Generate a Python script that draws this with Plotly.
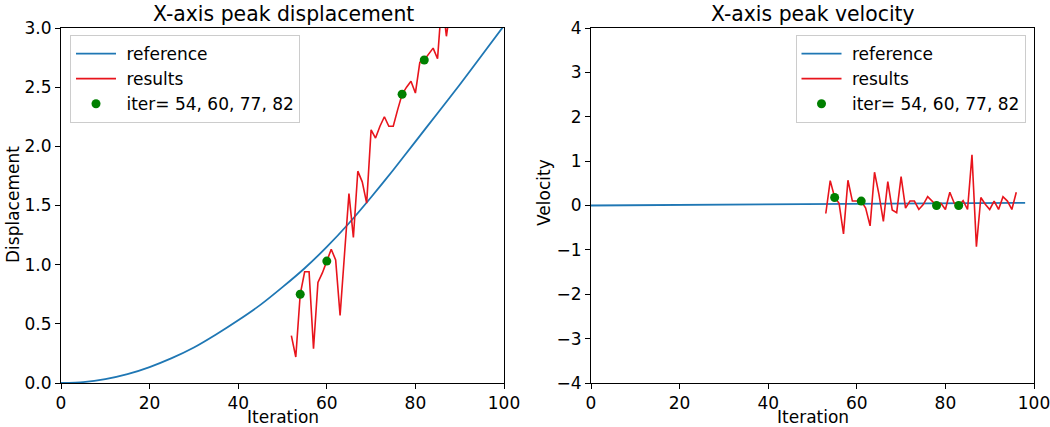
import plotly.graph_objects as go

# ---------------- data ----------------
ref_iter = [0, 5, 10, 15, 20, 25, 30, 35, 40, 45, 50, 55, 60, 65, 70, 75, 80, 85, 90, 95, 100]
disp_ref = [0.0, 0.008, 0.033, 0.075, 0.135, 0.21, 0.30, 0.41, 0.53, 0.66, 0.81, 0.97,
            1.15, 1.35, 1.57, 1.80, 2.04, 2.28, 2.52, 2.77, 3.02]

vel_ref_iter = [0, 20, 40, 60, 80, 98]
vel_ref = [0.0, 0.012, 0.024, 0.036, 0.048, 0.06]

disp_iter = list(range(52, 89))
disp_res = [0.40, 0.22, 0.75, 0.94, 0.94, 0.29, 0.85, 0.93, 1.03, 1.13,
            1.04, 0.57, 1.09, 1.60, 1.23, 1.79, 1.70, 1.52, 2.14, 2.07,
            2.17, 2.25, 2.17, 2.17, 2.31, 2.44, 2.50, 2.55, 2.45, 2.71,
            2.73, 2.78, 2.83, 2.74, 3.25, 2.93, 3.20]

vel_iter = list(range(53, 97))
vel_res = [-0.18, 0.56, 0.18, 0.05, -0.64, 0.57, 0.10, 0.10, 0.10, -0.06,
           -0.46, 0.75, 0.25, -0.36, 0.54, -0.10, -0.16, 0.65, -0.06, 0.10,
           0.10, -0.09, 0.02, 0.20, 0.10, 0.00, 0.05, -0.09, 0.30, 0.05,
           0.00, 0.11, -0.09, 1.14, -0.93, 0.18, 0.03, -0.09, 0.10, -0.09,
           0.20, 0.10, -0.09, 0.30]

sel_iter = [54, 60, 77, 82]
vel_sel_x = [55, 61, 78, 83]

disp_sel = [disp_res[disp_iter.index(i)] for i in sel_iter]
vel_sel = [vel_res[vel_iter.index(i)] for i in vel_sel_x]
sel_label = "iter= " + ", ".join(str(i) for i in sel_iter)

BLUE = "#1f77b4"
RED = "#e8141c"
GREEN = "#008000"
FONT = "DejaVu Sans"
PAD = "\u00a0"  # small gap between legend symbol and text

fig = go.Figure()

# left subplot
fig.add_trace(go.Scatter(x=ref_iter, y=disp_ref, mode="lines", name=PAD + "reference",
                         line=dict(color=BLUE, width=1.8, shape="spline", smoothing=0.6),
                         xaxis="x", yaxis="y", legend="legend"))
fig.add_trace(go.Scatter(x=disp_iter, y=disp_res, mode="lines", name=PAD + "results",
                         line=dict(color=RED, width=1.6), xaxis="x", yaxis="y", legend="legend"))
fig.add_trace(go.Scatter(x=sel_iter, y=disp_sel, mode="markers", name=PAD + sel_label,
                         marker=dict(color=GREEN, size=9), xaxis="x", yaxis="y", legend="legend"))

# right subplot
fig.add_trace(go.Scatter(x=vel_ref_iter, y=vel_ref, mode="lines", name=PAD + "reference",
                         line=dict(color=BLUE, width=1.8), xaxis="x2", yaxis="y2", legend="legend2"))
fig.add_trace(go.Scatter(x=vel_iter, y=vel_res, mode="lines", name=PAD + "results",
                         line=dict(color=RED, width=1.6), xaxis="x2", yaxis="y2", legend="legend2"))
fig.add_trace(go.Scatter(x=vel_sel_x, y=vel_sel, mode="markers", name=PAD + sel_label,
                         marker=dict(color=GREEN, size=9), xaxis="x2", yaxis="y2", legend="legend2"))

W, H = 1050, 427
L, R, T, B = 30, 10, 28, 44
PW = W - L - R
PH = H - T - B


def px(x):
    return (x - L) / PW


def py(y):
    return (H - B - y) / PH


axis_common = dict(showline=True, linecolor="black", linewidth=1, mirror=True,
                   ticks="outside", ticklen=5, tickcolor="black", showgrid=False,
                   zeroline=False, automargin=False, ticklabeloverflow="allow",
                   tickfont=dict(family=FONT, size=17, color="black"))

legend_common = dict(yanchor="top", itemwidth=40, itemsizing="trace",
                     bgcolor="rgba(255,255,255,0.8)", bordercolor="#cccccc", borderwidth=1,
                     font=dict(family=FONT, size=17, color="black"), tracegroupgap=0)

fig.update_layout(
    width=W, height=H, autosize=False,
    margin=dict(l=L, r=R, t=T, b=B, autoexpand=False),
    paper_bgcolor="white", plot_bgcolor="white",
    font=dict(family=FONT, size=17, color="black"),
    xaxis=dict(domain=[px(61), px(504)], range=[0, 100], tick0=0, dtick=20, anchor="y", **axis_common),
    yaxis=dict(domain=[0, 1], range=[0, 3], tick0=0, dtick=0.5, tickformat=".1f", anchor="x", **axis_common),
    xaxis2=dict(domain=[px(591), px(1034)], range=[0, 100], tick0=0, dtick=20, anchor="y2", **axis_common),
    yaxis2=dict(domain=[0, 1], range=[-4, 4], tick0=-4, dtick=1, anchor="x2", **axis_common),
    legend=dict(x=px(70), y=py(35), xanchor="left", **legend_common),
    legend2=dict(x=px(1025.5), y=py(35), xanchor="right", **legend_common),
    showlegend=True,
)

annots = [
    dict(text="X-axis peak displacement", x=px(283), y=py(14), font=dict(size=20.4)),
    dict(text="X-axis peak velocity", x=px(813), y=py(14), font=dict(size=20.4)),
    dict(text="Iteration", x=px(283), y=py(417), font=dict(size=17)),
    dict(text="Iteration", x=px(813), y=py(417), font=dict(size=17)),
    dict(text="Displacement", x=px(13), y=py(205), font=dict(size=17), textangle=-90),
    dict(text="Velocity", x=px(544), y=py(193), font=dict(size=17), textangle=-90),
]
for a in annots:
    a["font"]["family"] = FONT
    a["font"]["color"] = "black"
    fig.add_annotation(xref="paper", yref="paper", showarrow=False,
                       xanchor="center", yanchor="middle", **a)

fig.write_html("out.html", config={"displayModeBar": False},
               post_script="document.body.style.margin='0px';document.body.style.overflow='hidden';")
